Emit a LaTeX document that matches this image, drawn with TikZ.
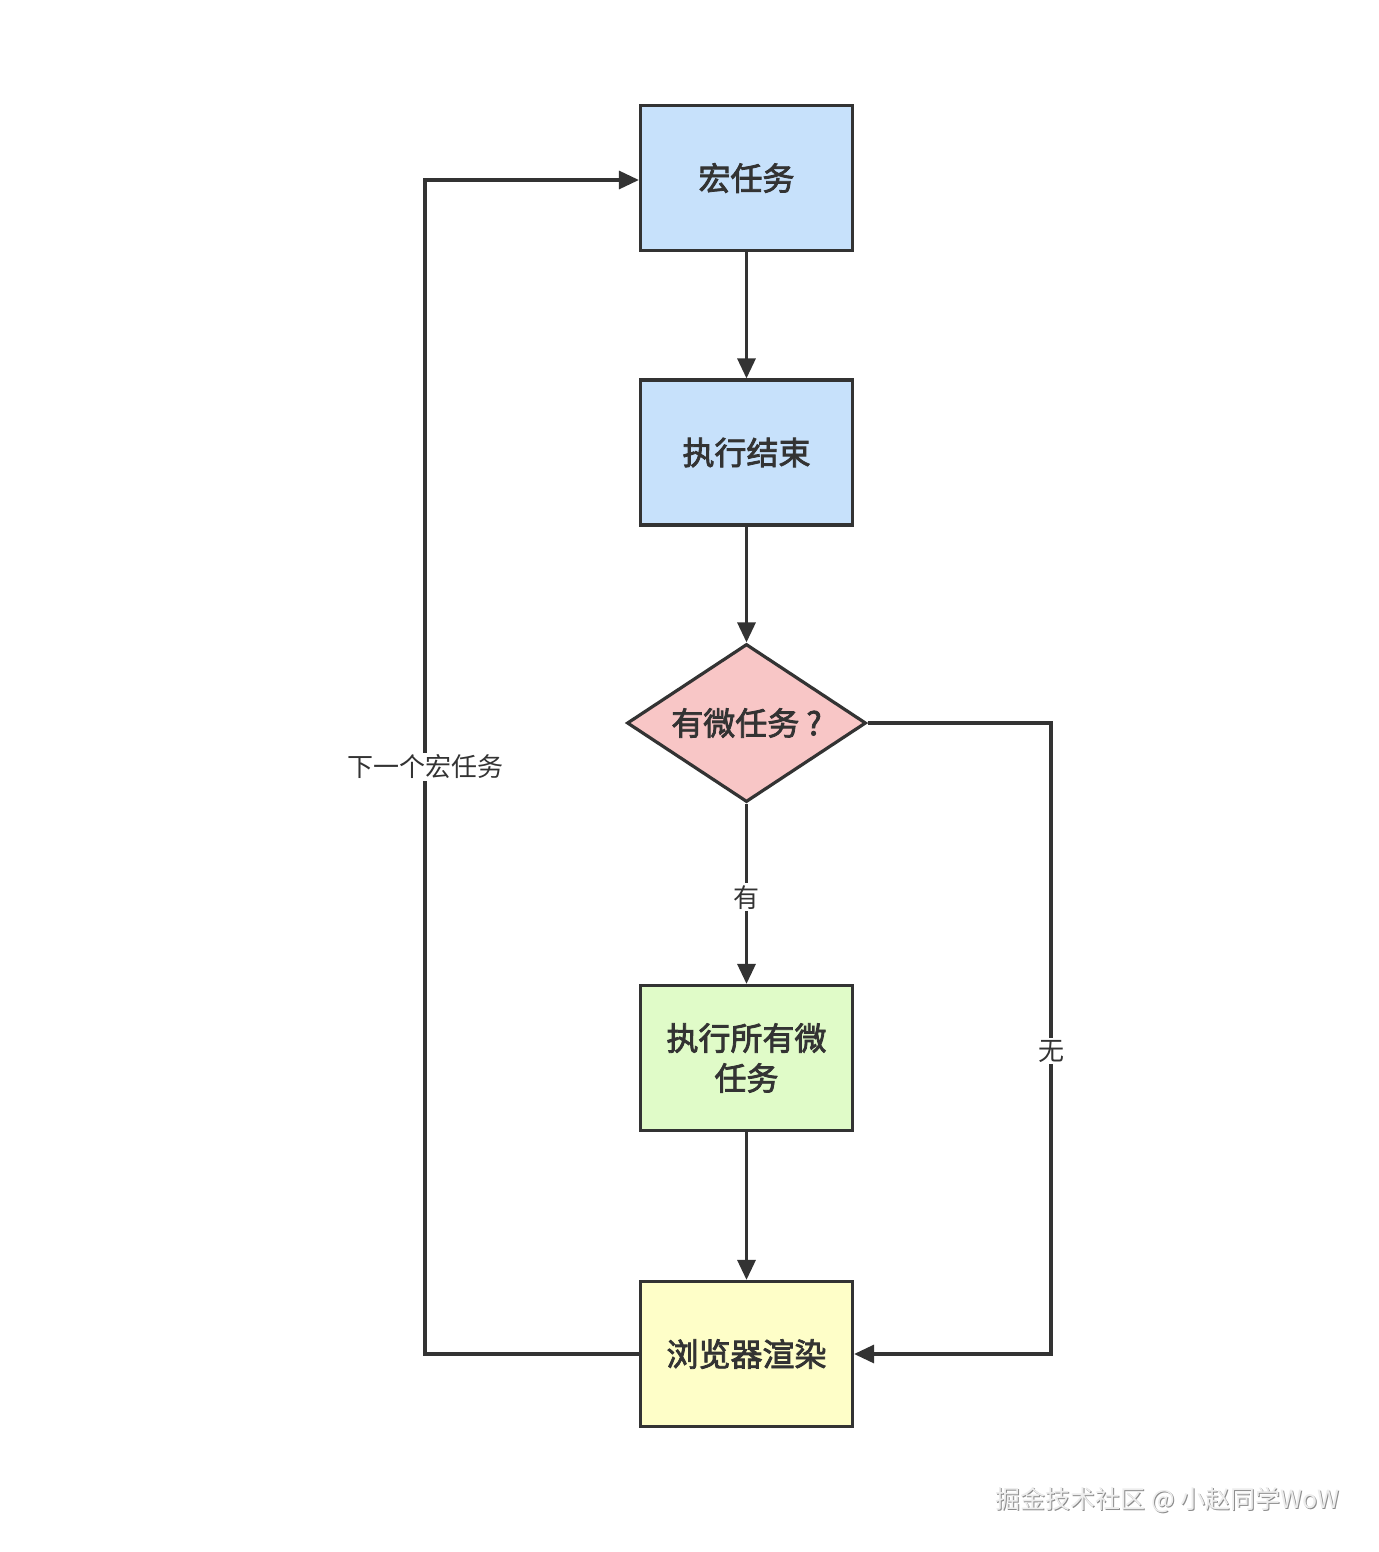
\documentclass[tikz,border=0pt]{standalone}
\usepackage{fontspec}
\newfontfamily\cjk{Noto Sans CJK SC}[AutoFakeBold=2.5]
\usetikzlibrary{arrows.meta,shapes.geometric}
\definecolor{ln}{HTML}{333333}
\definecolor{fblue}{HTML}{C7E1FB}
\definecolor{fred}{HTML}{F8C6C6}
\definecolor{fgreen}{HTML}{E0FBC8}
\definecolor{fyellow}{HTML}{FEFEC8}
\tikzset{
  box/.style={draw=ln, line width=1.6pt, minimum width=106pt, minimum height=72.5pt, inner sep=0pt, align=center, text=ln, font=\cjk\bfseries\fontsize{16}{20}\selectfont},
  dec/.style={draw=ln, line width=1.6pt, diamond, aspect=1.51, minimum width=119.5pt, minimum height=79pt, inner sep=0pt, text=ln, font=\cjk\bfseries\fontsize{16}{20}\selectfont},
  conn/.style={draw=ln, line width=1.6pt, -{Triangle[length=10pt,width=9pt]}},
  lbl/.style={fill=white, text=ln, inner sep=1pt, font=\cjk\fontsize{13}{15}\selectfont}
}
\begin{document}
\begin{tikzpicture}[x=0.5pt,y=-0.5pt]
\useasboundingbox (0,0) rectangle (1378,1552);
\node[box, fill=fblue] (a) at (746.5,178) {宏任务};
\node[box, fill=fblue] (b) at (746.5,452.5) {执行结束};
\node[dec, fill=fred] (c) at (746.5,723) {有微任务 ?};
\node[box, fill=fgreen] (d) at (746.5,1058) {执行所有微\\任务};
\node[box, fill=fyellow] (e) at (746.5,1354) {浏览器渲染};
\coordinate (lb) at (425,1354);
\coordinate (lt) at (425,180);
\coordinate (rt) at (1051,723);
\coordinate (rb) at (1051,1354);
\draw[conn] (a) -- (b);
\draw[conn] (b) -- (c);
\draw[conn] (c) -- node[lbl, pos=0.52] {有} (d);
\draw[conn] (d) -- (e);
\draw[conn] (e.west) -- (lb) -- node[lbl] {下一个宏任务} (lt) -- (a.west |- lt);
\draw[conn] (c.east) -- (rt) -- node[lbl, pos=0.52] {无} (rb) -- (e.east);
\node[anchor=east, text=black!45, font=\cjk\fontsize{12.5}{14}\selectfont, inner sep=0pt] at (1340.7,1501.2) {掘金技术社区 @ 小赵同学WoW};
\node[anchor=east, text=white!93!black, font=\cjk\fontsize{12.5}{14}\selectfont, inner sep=0pt] (wm) at (1340,1500) {掘金技术社区 @ 小赵同学WoW};
\end{tikzpicture}
\end{document}
